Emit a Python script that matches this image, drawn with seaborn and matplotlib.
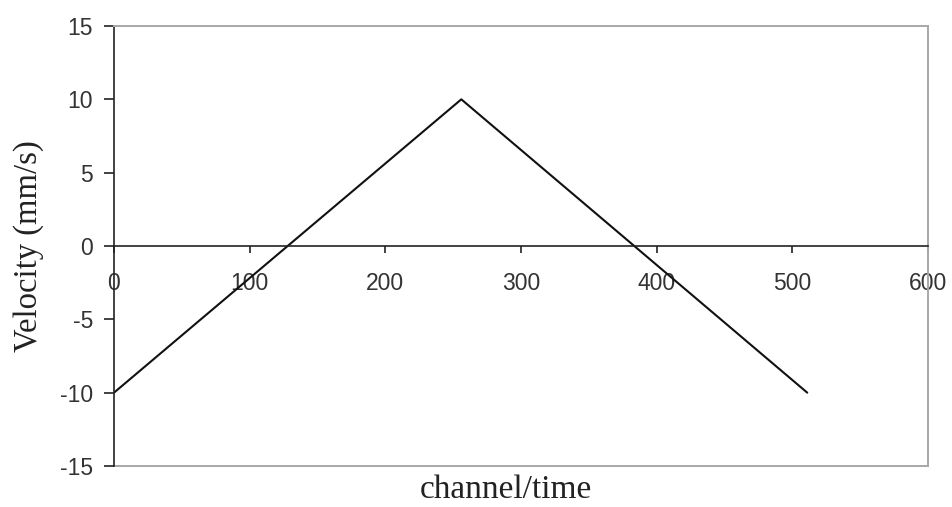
import matplotlib
matplotlib.use("Agg")
import matplotlib.pyplot as plt
import seaborn as sns
import pandas as pd

channel = [0, 256, 511]
velocity = [-10, 10, -10]
x_ticks = [0, 100, 200, 300, 400, 500, 600]
y_ticks = [-15, -10, -5, 0, 5, 10, 15]

sns.set_theme(style="white")
plt.rcParams['font.family'] = ['Liberation Sans', 'DejaVu Sans']

df = pd.DataFrame({"channel": channel, "velocity": velocity})

fig = plt.figure(figsize=(9.52, 5.07), dpi=100)
ax = fig.add_axes([114/952, 1-466/507, (928-114)/952, (466-26)/507])

sns.lineplot(data=df, x="channel", y="velocity", color="#111111", linewidth=1.5, ax=ax)

ax.set_xlim(0, 600)
ax.set_ylim(-15, 15)
ax.set_xticks(x_ticks)
ax.set_yticks(y_ticks)
ax.set_xticklabels([str(v) for v in x_ticks])
ax.set_yticklabels([str(v) for v in y_ticks])

gray = "#a8a8a8"
ax.spines['bottom'].set_position(('data', 0))
ax.spines['bottom'].set_color("#222222")
ax.spines['bottom'].set_linewidth(1.2)
ax.spines['left'].set_color("#222222")
ax.spines['left'].set_linewidth(1.2)
ax.spines['top'].set_color(gray)
ax.spines['right'].set_color(gray)
ax.spines['top'].set_linewidth(1.4)
ax.spines['right'].set_linewidth(1.4)
ax.axhline(-15, color=gray, linewidth=1.4, clip_on=False, zorder=0)

ax.tick_params(axis='x', direction='out', length=5, width=1.2, color="#222222",
               pad=14, labelsize=16.5, labelcolor="#333333", bottom=True)
ax.tick_params(axis='y', direction='out', length=7, width=1.2, color="#222222",
               pad=8, labelsize=16.5, labelcolor="#333333", left=True)

ax.set_xlabel("")
ax.set_ylabel("")
fig.text(506/952, 1-490/507, "channel/time", family=['Liberation Serif'],
         fontsize=24, color="#222222", ha='center', va='center')
fig.text(29/952, 1-246/507, "Velocity (mm/s)", family=['Liberation Serif'],
         fontsize=23.5, color="#222222", ha='center', va='center', rotation=90)

fig.savefig("out.png", dpi=100, facecolor="white")
